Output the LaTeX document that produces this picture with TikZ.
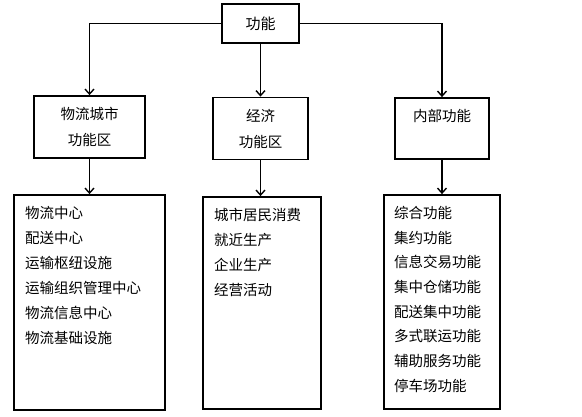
\documentclass[tikz,border=0pt]{standalone}
\usepackage{fontspec}
\setmainfont{Noto Sans CJK SC}
\usetikzlibrary{arrows.meta}

\begin{document}
\begin{tikzpicture}[x=1pt,y=-1pt,
		box/.style={draw,line width=1.8pt,inner sep=0pt},
		link/.style={line width=1.4pt,-{Straight Barb[length=5pt,width=9pt,line width=1.4pt]}},
		item/.style={anchor=west,inner sep=0pt,font=\fontsize{14.5}{25}\selectfont}]
	\useasboundingbox (0,0) rectangle (582,416);
	%\draw [help lines] (0,0) grid (582,416);
	% top
	\node[box,minimum width=77pt,minimum height=39pt,font=\fontsize{15}{18}\selectfont] (gn) at (260.5,23.5) {功能};
	% middle row
	\node[box,minimum width=111pt,minimum height=62pt,align=center,font=\fontsize{14.5}{26}\selectfont] (wl) at (89.5,127) {物流城市\\功能区};
	\node[box,minimum width=95pt,minimum height=62pt,align=center,font=\fontsize{14.5}{26}\selectfont] (jj) at (260.5,128.5) {经济\\功能区};
	\node[box,minimum width=94pt,minimum height=61pt] (nb) at (442,128.5) {};
	\node[font=\fontsize{14.5}{18}\selectfont] (nbt) at (442,116) {内部功能};
	% bottom row
	\node[box,minimum width=151pt,minimum height=215pt] (wlx) at (89.5,302.5) {};
	\node[box,minimum width=118pt,minimum height=212pt] (jjx) at (262,303) {};
	\node[box,minimum width=116pt,minimum height=214pt] (nbx) at (442,302) {};
	\foreach \t [count=\i] in {物流中心,配送中心,运输枢纽设施,运输组织管理中心,物流信息中心,物流基础设施}
		\node[item] (wl\i) at (25,{213+25*(\i-1)}) {\t};
	\foreach \t [count=\i] in {城市居民消费,就近生产,企业生产,经营活动}
		\node[item] (jj\i) at (214,{215+25*(\i-1)}) {\t};
	\foreach \t [count=\i] in {综合功能,集约功能,信息交易功能,集中仓储功能,配送集中功能,多式联运功能,辅助服务功能,停车场功能}
		\node[item] (nb\i) at (394,{213+24.7*(\i-1)}) {\t};
	% connectors
	\draw[link] (gn.west) -| (wl.north);
	\draw[link] (gn.east) -| (nb.north);
	\draw[link] (gn.south) -- (gn.south |- jj.north);
	\draw[link] (wl.south) -- (wlx.north);
	\draw[link] (jj.south) -- (jj.south |- jjx.north);
	\draw[link] (nb.south) -- (nbx.north);
\end{tikzpicture}
\end{document}
